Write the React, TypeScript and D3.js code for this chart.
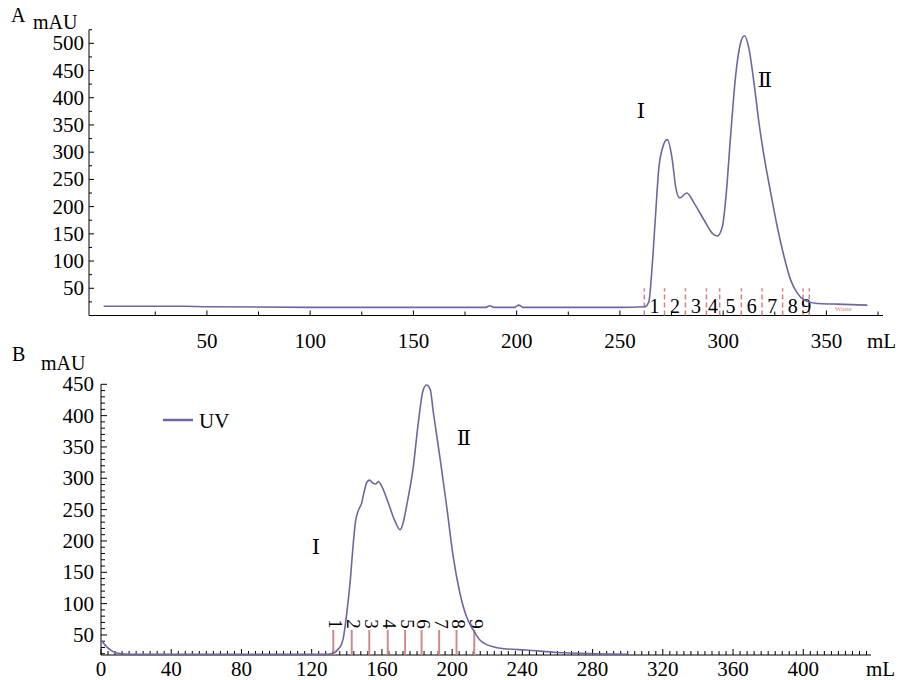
import React from 'react'
import * as d3 from 'd3'

// chromatogram A (mL, mAU)
const volumeA = [0, 40, 50, 100, 150, 185, 187, 189, 199, 201, 203, 250, 262, 264, 265.6, 267.2, 268.9, 270.5, 272.9, 275.4, 277, 279, 282.4, 286, 290.8, 294.8, 297.2, 299.6, 301.2, 303.7, 306, 308.4, 310.3, 312.6, 315, 317.3, 319.7, 323, 326.2, 329.5, 332.7, 335.9, 339.2, 345.6, 353.7, 362, 369.8]
const uvA = [17, 17, 16, 15, 15, 15, 18, 15, 15, 19, 15, 15, 16, 25, 90, 181, 273, 306, 323, 285, 236, 216, 225, 206, 175, 151, 146, 163, 212, 335, 439, 500, 514, 488, 425, 355, 295, 226, 163, 108, 65, 41, 28.5, 22, 21, 20, 19]
const fractionEdgesA = [261.8, 271.6, 281.7, 291.9, 298.3, 308.8, 318.8, 328.8, 338.7, 341.7]
const fractionLabelsA = ['1', '2', '3', '4', '5', '6', '7', '8', '9']
const yTicksA = [50, 100, 150, 200, 250, 300, 350, 400, 450, 500]
const xTicksA = [50, 100, 150, 200, 250, 300, 350]

// chromatogram B (mL, mAU)
const volumeB = [0, 2, 4, 6, 8, 12, 20, 50, 100, 128, 131, 133, 135, 137, 138, 140, 142, 143.5, 145, 146.5, 148.4, 150, 151.5, 153, 155, 156.5, 158, 159.8, 163.6, 167.4, 170.3, 172, 174, 177.9, 180.7, 183.5, 185.5, 187.5, 189.3, 193, 196.9, 200.6, 204.4, 208.2, 212, 215.8, 223.4, 230, 242, 260, 280, 300]
const uvB = [42, 35, 29, 25, 22, 20, 19, 19, 19, 19, 20, 22, 27, 35, 45, 85, 138, 190, 232, 248, 260, 280, 294, 297, 292, 291, 295, 288, 261, 232, 218, 228, 255, 319, 388, 441, 449, 442, 405, 334, 255, 175, 117, 79, 58, 42, 31, 28, 26, 22, 20, 19]
const fractionLinesB = [132.3, 142.8, 152.8, 163.3, 173.2, 182.6, 192.6, 202.5, 212.6]
const fractionLabelsB = ['1', '2', '3', '4', '5', '6', '7', '8', '9']
const yTicksB = [50, 100, 150, 200, 250, 300, 350, 400, 450]
const xTicksB = [0, 40, 80, 120, 160, 200, 240, 280, 320, 360, 400]

const LINE = '#6f66a0'
const RED = '#d98080'
const FONT = '"Liberation Serif", "Times New Roman", serif'
const ROMAN = '"DejaVu Serif", "Liberation Serif", serif'

const App = () => {
  // panel A scales
  const xA = d3.scaleLinear().domain([-7.1, 377.4]).range([89, 883])
  const yA = d3.scaleLinear().domain([0, 525]).range([315.5, 29.7])
  // panel B scales
  const xB = d3.scaleLinear().domain([0, 438]).range([101, 870])
  const yB = d3.scaleLinear().domain([18, 450]).range([655, 384.3])

  const lineA = d3.line<number>().x((d, i) => xA(volumeA[i])).y(d => yA(d)).curve(d3.curveMonotoneX)
  const lineB = d3.line<number>().x((d, i) => xB(volumeB[i])).y(d => yB(d)).curve(d3.curveMonotoneX)

  const minorYA = d3.range(25, 526, 50)
  const minorXA = d3.range(25, 376, 50)
  const minorYB = d3.range(20, 451, 10).filter(v => v % 50 !== 0)
  const minorXB = d3.range(4, 437, 4).filter(v => v % 40 !== 0)

  const midsA = fractionLabelsA.map((l, i) => (fractionEdgesA[i] + fractionEdgesA[i + 1]) / 2)

  return (
    <svg width={901} height={680} style={{ position: 'absolute', left: 0, top: 0, background: '#fff' }} fontFamily={FONT}>
      {/* ---------- A ---------- */}
      <text x={11} y={22} fontSize={20}>A</text>
      <text x={33} y={29} fontSize={20}>mAU</text>
      <line x1={89} x2={89} y1={yA(525)} y2={yA(0)} stroke="#000" />
      <line x1={89} x2={883} y1={yA(0)} y2={yA(0)} stroke="#000" />
      {yTicksA.map(t => (
        <g key={'ya' + t}>
          <line x1={89} x2={94} y1={yA(t)} y2={yA(t)} stroke="#000" />
          <text x={84} y={yA(t) + 7} fontSize={21} textAnchor="end">{t}</text>
        </g>
      ))}
      {minorYA.map(t => <line key={'mya' + t} x1={89} x2={92} y1={yA(t)} y2={yA(t)} stroke="#000" />)}
      {xTicksA.map(t => (
        <g key={'xa' + t}>
          <line x1={xA(t)} x2={xA(t)} y1={yA(0)} y2={yA(0) - 5} stroke="#000" />
          <text x={xA(t)} y={348} fontSize={21} textAnchor="middle">{t}</text>
        </g>
      ))}
      {minorXA.map(t => <line key={'mxa' + t} x1={xA(t)} x2={xA(t)} y1={yA(0)} y2={yA(0) - 4} stroke="#000" />)}
      <text x={867} y={348} fontSize={21}>mL</text>
      {fractionEdgesA.map((v, i) => (
        <line key={'fa' + i} x1={xA(v)} x2={xA(v)} y1={yA(0)} y2={yA(50)} stroke={RED} strokeWidth={1.5} strokeDasharray="5,3" />
      ))}
      {fractionLabelsA.map((l, i) => (
        <text key={'fla' + i} x={xA(midsA[i])} y={313} fontSize={20} textAnchor="middle">{l}</text>
      ))}
      <text x={835} y={311} fontSize={7} fill={RED}>Waste</text>
      <path d={lineA(uvA) || ''} fill="none" stroke={LINE} strokeWidth={1.6} />
      <text x={641} y={118} fontSize={21} fontFamily={ROMAN} textAnchor="middle">Ⅰ</text>
      <text x={765} y={87} fontSize={21} fontFamily={ROMAN} textAnchor="middle">Ⅱ</text>

      {/* ---------- B ---------- */}
      <text x={12} y={361} fontSize={20}>B</text>
      <text x={41} y={370} fontSize={20}>mAU</text>
      <line x1={101} x2={101} y1={yB(450)} y2={yB(18)} stroke="#000" />
      <line x1={101} x2={871} y1={yB(18)} y2={yB(18)} stroke="#000" />
      {yTicksB.map(t => (
        <g key={'yb' + t}>
          <line x1={101} x2={107} y1={yB(t)} y2={yB(t)} stroke="#000" />
          <text x={94} y={yB(t) + 7} fontSize={21} textAnchor="end">{t}</text>
        </g>
      ))}
      {minorYB.map(t => <line key={'myb' + t} x1={101} x2={105} y1={yB(t)} y2={yB(t)} stroke="#000" />)}
      {xTicksB.map(t => (
        <g key={'xb' + t}>
          <line x1={xB(t)} x2={xB(t)} y1={yB(18)} y2={yB(18) - 6} stroke="#000" />
          <text x={xB(t)} y={676} fontSize={21} textAnchor="middle">{t}</text>
        </g>
      ))}
      {minorXB.map(t => <line key={'mxb' + t} x1={xB(t)} x2={xB(t)} y1={yB(18)} y2={yB(18) - 4} stroke="#000" />)}
      <text x={866} y={676} fontSize={21}>mL</text>
      {fractionLinesB.map((v, i) => (
        <line key={'fb' + i} x1={xB(v)} x2={xB(v)} y1={yB(18)} y2={yB(58)} stroke="#cc8c8c" strokeWidth={2} />
      ))}
      {fractionLabelsB.map((l, i) => (
        <text key={'flb' + i} fontSize={19} textAnchor="middle" dominantBaseline="central"
          transform={`translate(${xB(fractionLinesB[i]) + 2},${624}) rotate(90)`}>{l}</text>
      ))}
      <path d={lineB(uvB) || ''} fill="none" stroke={LINE} strokeWidth={1.6} />
      <line x1={163} x2={193} y1={420} y2={420} stroke={LINE} strokeWidth={2.5} />
      <text x={199} y={428} fontSize={21}>UV</text>
      <text x={316} y={554} fontSize={21} fontFamily={ROMAN} textAnchor="middle">Ⅰ</text>
      <text x={464} y={445} fontSize={21} fontFamily={ROMAN} textAnchor="middle">Ⅱ</text>
    </svg>
  )
}

export default App
